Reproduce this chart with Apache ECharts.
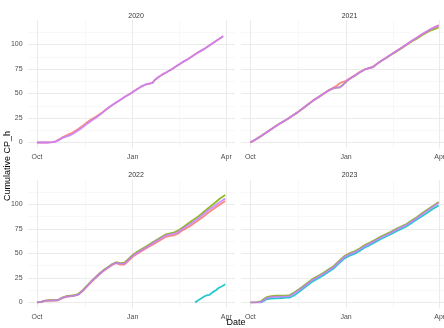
<!DOCTYPE html>
<html><head><meta charset="utf-8">
<script src="https://cdn.jsdelivr.net/npm/echarts@6/dist/echarts.min.js"></script>
<style>html,body{margin:0;padding:0;background:#fff}#c{width:444px;height:328px}</style>
</head><body><div id="c"></div>
<script>
// ---- data (x = days since 1 Oct of each season) ----
const panelTitles = ['2020', '2021', '2022', '2023'];
const xTickValues = [0, 92, 182];
const xTickLabels = ['Oct', 'Jan', 'Apr'];
const xMinorValues = [46, 137];
const yTickValues = [0, 25, 50, 75, 100];
const yMinorValues = [12.5, 37.5, 62.5, 87.5, 112.5];

const days2020 = [0,5,10,15,18,22,25,28,31,34,37,40,44,48,52,57,62,66,70,75,80,85,90,95,100,104,108,111,113,116,120,125,130,135,140,145,150,155,160,165,170,175,179];
const red2020 = [0,0,0,0.3,1.2,3.5,5.5,7,8.5,10,12,14,17,20.5,23.5,26.5,30,33.5,36.5,40,43.5,47,50,53.5,57,59,60,60.8,63.5,66,69,72,75,78.5,82,85,88.5,92,95,98.5,102,105.5,108.3];
const purple2020 = [0,0,0,0.3,1,3,5,6,7,8.5,10.5,12.5,15.5,19,22,25.5,29.5,33,36.5,40,43.5,47,50,53.5,57,59,60,60.5,63.5,66,69,72,75,78.5,82,85,88.5,92,95,98.5,102,105.5,108.5];

const days2021 = [0,5,10,15,20,25,30,35,40,45,50,55,60,65,70,75,80,83,86,89,92,95,98,101,105,110,114,118,122,126,130,135,140,145,150,155,160,165,170,175,181];
const red2021 = [0,3,6.5,10,13.5,17,20.5,23.5,27,30.5,34.5,38.5,42.5,46,49.5,53,56,58,60.5,62,63,65,67,69,72,74.5,76,77.5,80.5,83.5,86,89.5,93,96.5,100,103.5,107,110.5,113.5,116.5,119.5];
const green2021 = [0,3,6.5,10,13.5,17,20.5,23.5,27,30.5,34.5,38.5,42.5,46,49.5,53,55.5,56,56.5,59,62,64.5,66.5,68.5,71.5,74.5,76,77,80.5,83.5,86,89.5,92.5,96,99.5,103,106,109.5,112.5,115,117.5];
const purple2021 = [0,3,6.5,10,13.5,17,20.5,23.5,27,30.5,34.5,38.5,42.5,46,49.5,53,55.5,56,56,58.5,62,64.5,66.5,68.5,71.5,74.5,76,77,80.5,83.5,86,89.5,93,96.5,100,103.5,107,110.5,113.5,116.5,119.5];

const days2022 = [0,4,8,12,16,20,24,28,32,36,40,44,48,52,56,60,64,68,72,76,80,84,88,92,96,100,104,108,112,116,120,124,128,132,136,140,144,148,152,156,160,164,168,172,176,181];
const red2022 = [0,0.3,1.5,1.8,1.8,2,4.2,5.7,6.3,6.8,8.2,11.5,16,20.5,24.5,28.5,32,35,38,40,38.5,38.5,42.5,46.5,49.5,52,54.5,57,59.5,62,64.5,67,68,68.5,70.5,73.5,76,78.5,81.5,84.5,87.5,91,94,97,100,103.5];
const green2022 = [0,0.5,1.8,2.2,2.2,2.5,4.8,6.3,6.8,7.3,8.8,12.5,17,21.5,25.5,29.5,33,36,39,41,40,40.5,44.5,48.5,51.5,54,56.5,59,62,64.5,67,69.5,70.5,71.5,73.5,76.5,79.5,82.5,85.5,88.5,92,95.5,99,102.5,106,109.5];
const purple2022 = [0,0.5,1.8,2,2,2.2,4.5,6,6.5,7,8,12,16.5,21,25,29,32.5,35.5,38.5,40.5,39.5,39.5,43.5,47.5,50.5,53,55.5,58,61,63.5,66,68.5,69.5,70,72,75,78,80.5,83.5,86.5,90,93.5,96.5,99.5,102.5,106];
const daysCyan2022 = [152,154,157,160,163,166,169,172,175,178,181];
const cyan2022 = [0,1.5,3.5,5.5,7.3,7.8,10.5,12.5,15,16.5,18.5];

const days2023 = [0,5,10,13,16,20,25,30,35,38,42,46,50,55,60,65,70,75,80,85,90,95,100,105,110,115,120,125,130,135,140,145,150,155,160,165,170,175,181];
const green2023 = [0,0,1,3.5,5.5,6.5,6.8,7,7.2,7.5,10,13,16,20,24,27,30,33.5,37,42,47,50,52,55,58.5,61,64,67,69.5,72,75,77.5,80,83.5,87,91,94.5,98,102.5];
const purple2023 = [0,0,0,2.5,4.5,5.5,5.8,6,6.2,6.5,9,12,15,19,23,26,29,32.5,36,41,46,49,51,54,57.5,60,63,66,68.5,71,74,76.5,79,82.5,86,90,93.5,97,102];
const daysCyan2023 = [10,13,16,20,25,30,35,38,42,46,50,55,60,65,70,75,80,85,90,95,100,105,110,115,120,125,130,135,140,145,150,155,160,165,170,175,181];
const cyan2023 = [0,1.5,3.5,4,4.2,4.5,4.8,5,7,10,13.5,17.5,21.5,24.5,27.5,31,34.5,39.5,44.5,47.5,49.5,52.5,56,58.5,61.5,64.5,67,69.5,72.5,75,77.5,81,84.5,88,91.5,95,99];

const COL = {red: '#F8766D', green: '#7CAE00', cyan: '#00BFC4', purple: '#C77CFF'};
const seriesDefs = [
  {panel: 0, name: 'red', days: days2020, values: red2020},
  {panel: 0, name: 'purple', days: days2020, values: purple2020},
  {panel: 1, name: 'green', days: days2021, values: green2021},
  {panel: 1, name: 'red', days: days2021, values: red2021},
  {panel: 1, name: 'purple', days: days2021, values: purple2021},
  {panel: 2, name: 'red', days: days2022, values: red2022},
  {panel: 2, name: 'green', days: days2022, values: green2022},
  {panel: 2, name: 'cyan', days: daysCyan2022, values: cyan2022},
  {panel: 2, name: 'purple', days: days2022, values: purple2022},
  {panel: 3, name: 'green', days: days2023, values: green2023},
  {panel: 3, name: 'cyan', days: daysCyan2023, values: cyan2023},
  {panel: 3, name: 'purple', days: days2023, values: purple2023}
];

// ---- layout ----
const FONT = 'Liberation Sans, Arial, sans-serif';
const XMIN = -9, XMAX = 190, YMIN = -6, YMAX = 124.9;
const PW = 207, PH = 128.3;
const lefts = [27.6, 241, 27.6, 241];
const tops = [20.1, 20.1, 180, 180];

const grids = [], xAxes = [], yAxes = [], titles = [];
for (let i = 0; i < 4; i++) {
  grids.push({left: lefts[i], top: tops[i], width: PW, height: PH, containLabel: false, outerBoundsMode: 'none'});
  xAxes.push({
    type: 'value', gridIndex: i, min: XMIN, max: XMAX, position: 'bottom',
    axisLine: {show: false},
    axisTick: {show: false, customValues: xTickValues},
    axisLabel: {show: true, customValues: xTickValues, margin: 5, color: '#4d4d4d', fontSize: 7, fontFamily: FONT,
      formatter: v => xTickLabels[xTickValues.indexOf(v)] || ''},
    splitLine: {show: true, lineStyle: {color: '#ebebeb', width: 1}}
  });
  xAxes.push({
    type: 'value', gridIndex: i, min: XMIN, max: XMAX, position: 'top',
    axisLine: {show: false},
    axisTick: {show: false, customValues: xMinorValues},
    axisLabel: {show: false, customValues: xMinorValues},
    splitLine: {show: true, lineStyle: {color: '#f4f4f4', width: 0.6}}
  });
  yAxes.push({
    type: 'value', gridIndex: i, min: YMIN, max: YMAX,
    axisLine: {show: false},
    axisTick: {show: false, customValues: yTickValues},
    axisLabel: {show: i % 2 === 0, customValues: yTickValues, margin: 5, color: '#4d4d4d', fontSize: 7, fontFamily: FONT},
    splitLine: {show: true, lineStyle: {color: '#ebebeb', width: 1}}
  });
  yAxes.push({
    type: 'value', gridIndex: i, min: YMIN, max: YMAX, position: 'right',
    axisLine: {show: false},
    axisTick: {show: false, customValues: yMinorValues},
    axisLabel: {show: false, customValues: yMinorValues},
    splitLine: {show: true, lineStyle: {color: '#f4f4f4', width: 0.6}}
  });
  titles.push({
    text: panelTitles[i], left: lefts[i] + PW / 2, top: tops[i] - 13, textAlign: 'center',
    textStyle: {fontSize: 7, fontWeight: 'normal', color: '#333', fontFamily: FONT}
  });
}

const series = seriesDefs.map(s => ({
  type: 'line', name: s.name, xAxisIndex: s.panel * 2, yAxisIndex: s.panel * 2,
  data: s.days.map((d, k) => [d, s.values[k]]),
  showSymbol: false, symbol: 'none', smooth: false,
  lineStyle: {color: COL[s.name], width: 1.8, opacity: 0.85},
  itemStyle: {color: COL[s.name]},
  silent: true, animation: false
}));

const chart = echarts.init(document.getElementById('c'), null, {renderer: 'canvas'});
chart.setOption({
  backgroundColor: '#fff',
  animation: false,
  title: titles,
  grid: grids,
  xAxis: xAxes,
  yAxis: yAxes,
  series: series,
  graphic: [
    {type: 'text', x: 8, y: 166, rotation: Math.PI / 2,
      style: {text: 'Cumulative CP_h', align: 'center', verticalAlign: 'middle', fontSize: 9, fontFamily: FONT, fill: '#000'}},
    {type: 'text', x: 236, y: 323, style: {text: 'Date', align: 'center', verticalAlign: 'middle', fontSize: 9, fontFamily: FONT, fill: '#000'}}
  ]
});
</script>
</body></html>
